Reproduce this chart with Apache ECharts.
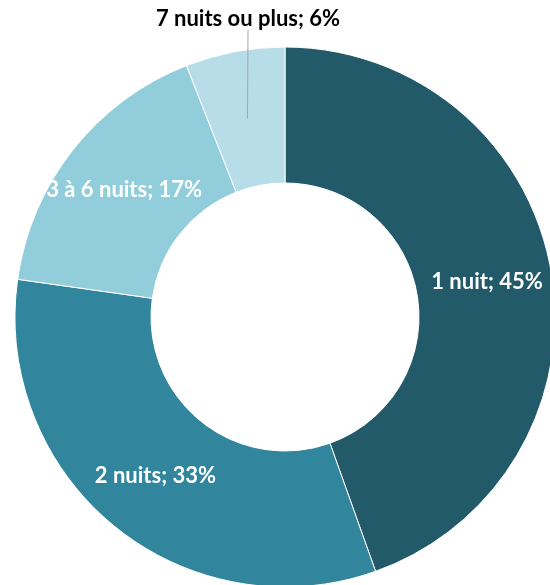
<!DOCTYPE html>
<html>
<head>
<meta charset="utf-8">
<script src="https://cdn.jsdelivr.net/npm/echarts@6/dist/echarts.min.js"></script>
<style>html,body{margin:0;padding:0;background:#fff;}#c{width:550px;height:585px;}</style>
</head>
<body>
<div id="c"></div>
<script>
var categories = ['1 nuit', '2 nuits', '3 à 6 nuits', '7 nuits ou plus'];
var values = [45, 33, 17, 6];
var colors = ['#235A69', '#31859C', '#92CDDC', '#B7DEE8'];

var chart = echarts.init(document.getElementById('c'), null, {renderer: 'canvas'});
var FONT = 'Lato';
var mainData = categories.map(function (n, i) {
  return {
    name: n, value: values[i],
    itemStyle: {color: colors[i]},
    label: {show: i < 3}
  };
});
var overlayData = categories.map(function (n, i) {
  return {
    name: n, value: values[i],
    label: {show: i === 3},
    labelLine: {show: i === 3}
  };
});
chart.setOption({
  animation: false,
  series: [{
    type: 'pie',
    z: 2,
    center: [285, 317],
    radius: [134, 270],
    startAngle: 90,
    clockwise: true,
    itemStyle: {borderColor: '#fff', borderWidth: 1},
    label: {
      position: 'inside',
      formatter: '{b}; {c}%',
      color: '#fff',
      fontFamily: FONT,
      fontWeight: 'bold',
      fontSize: 22
    },
    labelLine: {show: false},
    emphasis: {disabled: true},
    data: mainData
  }, {
    type: 'pie',
    z: 5,
    silent: true,
    center: [285, 317],
    radius: [0, 202],
    startAngle: 90,
    clockwise: true,
    itemStyle: {color: 'rgba(0,0,0,0)', borderWidth: 0},
    label: {
      position: 'outside',
      formatter: '{b}; {c}%',
      color: '#000',
      fontFamily: FONT,
      fontWeight: 'bold',
      fontSize: 22
    },
    labelLine: {show: true, length: 60, length2: 0, lineStyle: {color: '#A6A6A6', width: 1}},
    labelLayout: function (p) {
      if (p.dataIndex === 3) {
        return {x: 248, y: 19, align: 'center', verticalAlign: 'middle'};
      }
    },
    emphasis: {disabled: true},
    data: overlayData
  }]
});
</script>
</body>
</html>
